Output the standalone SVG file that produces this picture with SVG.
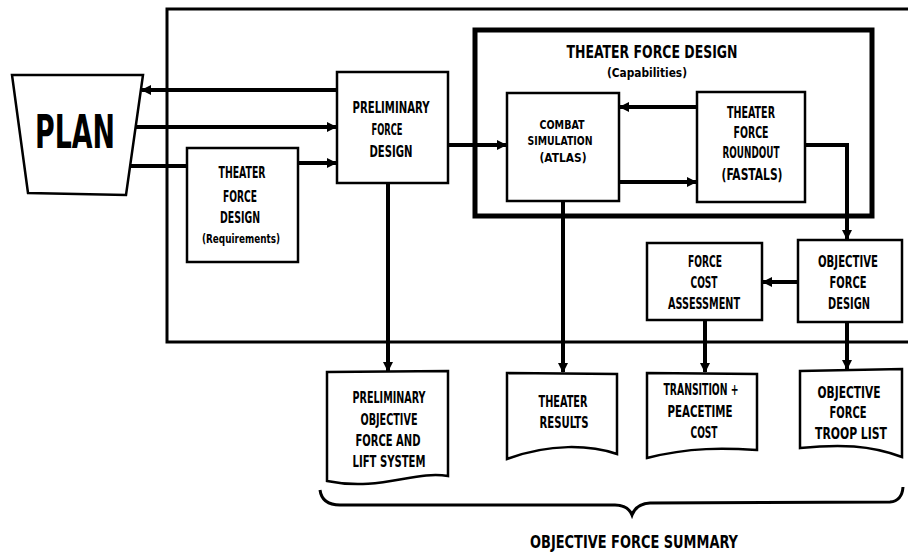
<svg xmlns="http://www.w3.org/2000/svg" width="908" height="555" viewBox="0 0 908 555">
<defs>
<marker id="ah" viewBox="0 0 10 10" refX="9" refY="5" markerWidth="11" markerHeight="10" markerUnits="userSpaceOnUse" orient="auto">
<path d="M0,0 L10,5 L0,10 z" fill="#000"/>
</marker>
</defs>
<style>
.box{fill:#fff;stroke:#000;stroke-width:2.5}
.thick{fill:none;stroke:#000;stroke-width:5}
.frame{fill:none;stroke:#000;stroke-width:3}
.con{fill:none;stroke:#000;stroke-width:4}
.arr{marker-end:url(#ah)}
text{font-family:"DejaVu Sans Condensed","Liberation Sans",sans-serif;font-weight:bold;font-size:15px;fill:#000;text-anchor:middle}
.sm{font-size:12px}
.md{font-size:13px}
.big{font-size:46px}
.ttl{font-size:17px}
</style>
<g id="frame">
<path class="frame" d="M908,9 H167 V342 H908"/>
</g>
<g id="connectors">
<path class="con arr" d="M337,90 H142"/>
<path class="con arr" d="M134,127 H336"/>
<path class="con" d="M129,166 H188"/>
<path class="con arr" d="M298,163 H336"/>
<path class="con arr" d="M448,145 H506"/>
<path class="con arr" d="M697,107 H620"/>
<path class="con arr" d="M619,182 H696"/>
<path class="con arr" d="M805,145 H847 V239"/>
<path class="con arr" d="M798,282 H763"/>
<path class="con arr" d="M388,183 V371"/>
<path class="con arr" d="M563,201 V372"/>
<path class="con arr" d="M705,320 V372"/>
<path class="con arr" d="M847,322 V369"/>
</g>
<g id="plan">
<path class="box" d="M12,75 L143,75 L126,195 L28,193 Z"/>
<text class="big" x="75" y="148" textLength="80" lengthAdjust="spacingAndGlyphs">PLAN</text>
</g>
<g id="tfd-req">
<rect class="box" x="187" y="148" width="111" height="114"/>
<text x="242" y="178" textLength="47" lengthAdjust="spacingAndGlyphs">THEATER</text>
<text x="240" y="202" textLength="34" lengthAdjust="spacingAndGlyphs">FORCE</text>
<text x="240" y="223" textLength="40" lengthAdjust="spacingAndGlyphs">DESIGN</text>
<text class="sm" x="241" y="243" textLength="78" lengthAdjust="spacingAndGlyphs">(Requirements)</text>
</g>
<g id="pfd">
<rect class="box" x="337" y="72" width="111" height="111"/>
<text x="391" y="113" textLength="77" lengthAdjust="spacingAndGlyphs">PRELIMINARY</text>
<text x="387" y="135" textLength="31" lengthAdjust="spacingAndGlyphs">FORCE</text>
<text x="391" y="157" textLength="43" lengthAdjust="spacingAndGlyphs">DESIGN</text>
</g>
<g id="tfd-cap">
<rect class="thick" x="475" y="30" width="397" height="186"/>
<text class="ttl" x="652" y="58" textLength="171" lengthAdjust="spacingAndGlyphs">THEATER FORCE DESIGN</text>
<text class="sm" x="647" y="77" textLength="80" lengthAdjust="spacingAndGlyphs">(Capabilities)</text>
</g>
<g id="combat">
<rect class="box" x="507" y="93" width="112" height="108"/>
<text class="md" x="562" y="129" textLength="45" lengthAdjust="spacingAndGlyphs">COMBAT</text>
<text class="md" x="560" y="145" textLength="65" lengthAdjust="spacingAndGlyphs">SIMULATION</text>
<text class="md" x="563" y="162" textLength="47" lengthAdjust="spacingAndGlyphs">(ATLAS)</text>
</g>
<g id="roundout">
<rect class="box" x="697" y="92" width="108" height="110"/>
<text x="751" y="118" textLength="48" lengthAdjust="spacingAndGlyphs">THEATER</text>
<text x="751" y="138" textLength="35" lengthAdjust="spacingAndGlyphs">FORCE</text>
<text x="751" y="158" textLength="57" lengthAdjust="spacingAndGlyphs">ROUNDOUT</text>
<text x="752" y="180" textLength="61" lengthAdjust="spacingAndGlyphs">(FASTALS)</text>
</g>
<g id="cost">
<rect class="box" x="647" y="243" width="115" height="77"/>
<text x="705" y="267" textLength="34" lengthAdjust="spacingAndGlyphs">FORCE</text>
<text x="704" y="288" textLength="27" lengthAdjust="spacingAndGlyphs">COST</text>
<text x="704" y="309" textLength="72" lengthAdjust="spacingAndGlyphs">ASSESSMENT</text>
</g>
<g id="ofd">
<rect class="box" x="798" y="240" width="104" height="82"/>
<text x="848" y="267" textLength="60" lengthAdjust="spacingAndGlyphs">OBJECTIVE</text>
<text x="848" y="288" textLength="37" lengthAdjust="spacingAndGlyphs">FORCE</text>
<text x="849" y="309" textLength="42" lengthAdjust="spacingAndGlyphs">DESIGN</text>
</g>
<g id="doc-prelim">
<path class="box" d="M327,372 L448,371 L448,476 C415,470 380,492 327,481 Z"/>
<text x="389" y="403" textLength="73" lengthAdjust="spacingAndGlyphs">PRELIMINARY</text>
<text x="389" y="425" textLength="57" lengthAdjust="spacingAndGlyphs">OBJECTIVE</text>
<text x="388" y="446" textLength="65" lengthAdjust="spacingAndGlyphs">FORCE AND</text>
<text x="389" y="467" textLength="73" lengthAdjust="spacingAndGlyphs">LIFT SYSTEM</text>
</g>
<g id="doc-theater">
<path class="box" d="M507,373 L617,374 L617,454 C590,445 550,443 507,459 Z"/>
<text x="563" y="407" textLength="49" lengthAdjust="spacingAndGlyphs">THEATER</text>
<text x="564" y="428" textLength="49" lengthAdjust="spacingAndGlyphs">RESULTS</text>
</g>
<g id="doc-transition">
<path class="box" d="M647,373 L757,374 L757,450 C725,448 690,447 647,458 Z"/>
<text x="701" y="395" textLength="75" lengthAdjust="spacingAndGlyphs">TRANSITION +</text>
<text x="700" y="417" textLength="65" lengthAdjust="spacingAndGlyphs">PEACETIME</text>
<text x="704" y="438" textLength="27" lengthAdjust="spacingAndGlyphs">COST</text>
</g>
<g id="doc-troop">
<path class="box" d="M800,371 L902,369 L902,457 C870,445 840,444 800,448 Z"/>
<text x="849" y="398" textLength="63" lengthAdjust="spacingAndGlyphs">OBJECTIVE</text>
<text x="848" y="418" textLength="37" lengthAdjust="spacingAndGlyphs">FORCE</text>
<text x="851" y="439" textLength="72" lengthAdjust="spacingAndGlyphs">TROOP LIST</text>
</g>
<g id="summary">
<path fill="none" stroke="#000" stroke-width="3" d="M320,490 Q322,505 340,505 L615,505 Q628,505 632,515 Q636,504 650,503 L890,502 Q902,501 903,487"/>
<text class="ttl" x="634" y="548" textLength="208" lengthAdjust="spacingAndGlyphs">OBJECTIVE FORCE SUMMARY</text>
</g>
</svg>
